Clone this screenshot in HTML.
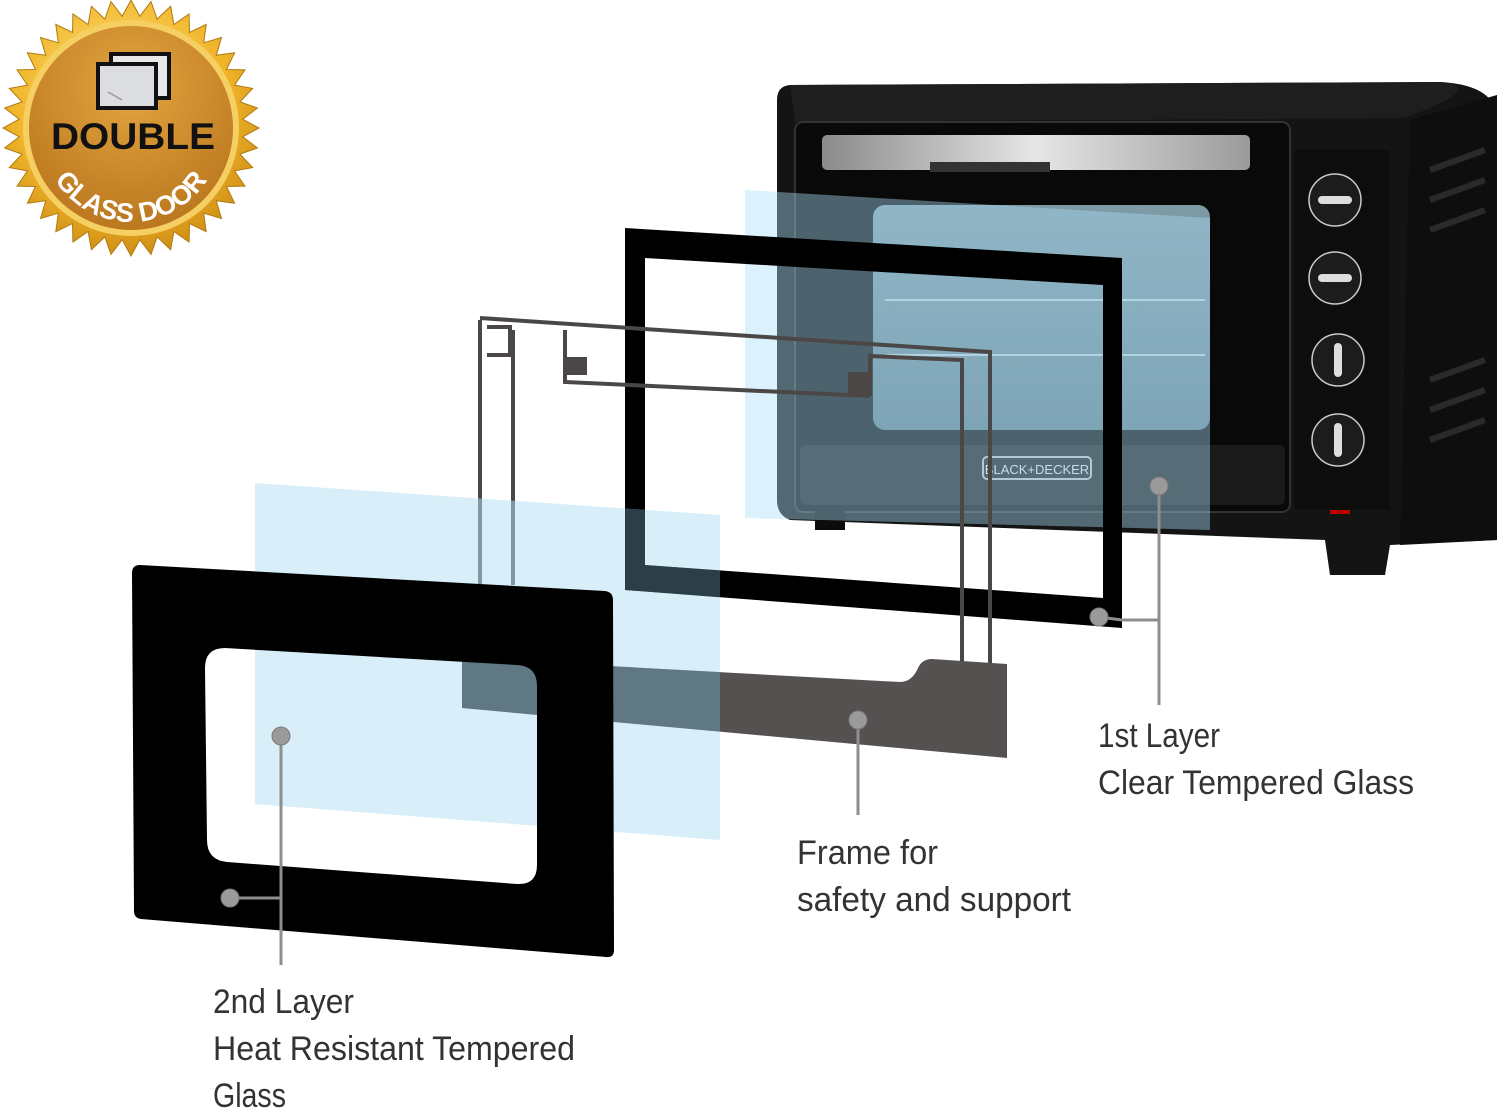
<!DOCTYPE html>
<html><head><meta charset="utf-8"><style>
html,body{margin:0;padding:0;background:#fff;}
svg{display:block}
text{font-family:"Liberation Sans",sans-serif}
</style></head><body>
<svg width="1500" height="1111" viewBox="0 0 1500 1111" xmlns="http://www.w3.org/2000/svg">
<defs>
<radialGradient id="gold" cx="45%" cy="35%" r="70%">
<stop offset="0" stop-color="#ffe27a"/><stop offset="0.6" stop-color="#f0b52a"/><stop offset="1" stop-color="#c98712"/></radialGradient>
<radialGradient id="disc" cx="50%" cy="30%" r="75%">
<stop offset="0" stop-color="#e3a540"/><stop offset="1" stop-color="#b8741c"/></radialGradient>
<linearGradient id="silver" x1="0" y1="0" x2="1" y2="0">
<stop offset="0" stop-color="#8a8a8a"/><stop offset="0.5" stop-color="#e6e6e6"/><stop offset="1" stop-color="#9a9a9a"/></linearGradient>
<linearGradient id="interior" x1="0" y1="0" x2="0" y2="1">
<stop offset="0" stop-color="#7e9aa5"/><stop offset="1" stop-color="#5f7c88"/></linearGradient>
<path id="arc" d="M 41,132 A 90 90 0 0 0 221,132"/>
<clipPath id="g2"><polygon points="255,483 720,515 720,840 255,804"/></clipPath>
</defs>

<!-- BADGE -->
<polygon fill="url(#gold)" stroke="#b07a10" stroke-width="1" points="" id="star"/>
<script>
(function(){var p=[],cx=131,cy=128,n=40;for(var i=0;i<2*n;i++){var r=i%2?112:128,a=Math.PI*i/n;p.push((cx+r*Math.cos(a)).toFixed(1)+','+(cy+r*Math.sin(a)).toFixed(1));}document.getElementById('star').setAttribute('points',p.join(' '));})();
</script>
<circle cx="131" cy="128" r="108" fill="#f6cf63"/>
<circle cx="131" cy="128" r="102" fill="url(#disc)"/>
<rect x="111" y="54" width="58" height="44" fill="#e8e8ea" stroke="#111" stroke-width="4"/>
<rect x="98" y="64" width="58" height="44" fill="#dcdde0" stroke="#111" stroke-width="4"/>
<line x1="108" y1="92" x2="122" y2="100" stroke="#999" stroke-width="1.5"/>
<text x="133" y="149" text-anchor="middle" font-size="37" font-weight="bold" fill="#111" textLength="164" lengthAdjust="spacingAndGlyphs">DOUBLE</text>
<text font-size="27" font-weight="bold" fill="#fff"><textPath href="#arc" startOffset="50%" text-anchor="middle">GLASS DOOR</textPath></text>

<!-- OVEN -->
<path d="M790,85 L1440,82 Q1497,85 1497,120 L1497,540 L1390,545 L1385,575 L1330,575 L1325,540 L790,520 Q777,515 777,500 L777,100 Q777,86 790,85 Z" fill="#141414"/>
<path d="M790,85 L1440,82 Q1490,86 1405,118 L795,122 Z" fill="#1e1e1e"/>
<path d="M1410,120 L1497,95 L1497,540 L1400,545 Z" fill="#0e0e0e"/>
<g stroke="#2a2a2a" stroke-width="6">
<line x1="1430" y1="170" x2="1485" y2="150"/><line x1="1430" y1="200" x2="1485" y2="180"/><line x1="1430" y1="230" x2="1485" y2="210"/>
<line x1="1430" y1="380" x2="1485" y2="360"/><line x1="1430" y1="410" x2="1485" y2="390"/><line x1="1430" y1="440" x2="1485" y2="420"/>
</g>
<rect x="795" y="122" width="495" height="390" rx="8" fill="#090909" stroke="#333" stroke-width="2"/>
<rect x="822" y="135" width="428" height="35" rx="5" fill="url(#silver)"/>
<rect x="930" y="162" width="120" height="10" fill="#333"/>
<rect x="873" y="205" width="337" height="225" rx="12" fill="url(#interior)"/>
<g stroke="#b8ccd2" stroke-width="2" fill="none">
<line x1="885" y1="300" x2="1205" y2="300"/><line x1="885" y1="355" x2="1205" y2="355"/>
</g>
<rect x="800" y="445" width="485" height="60" rx="6" fill="#1a1a1a"/>
<rect x="983" y="457" width="108" height="22" rx="4" fill="none" stroke="#bbb" stroke-width="2"/>
<text x="1037" y="474" text-anchor="middle" font-size="13" fill="#ddd">BLACK+DECKER</text>
<rect x="815" y="505" width="30" height="25" fill="#0c0c0c"/>
<rect x="1295" y="150" width="95" height="360" fill="#0d0d0d"/>
<g fill="#1c1c1c" stroke="#ccc" stroke-width="1.5">
<circle cx="1335" cy="200" r="26"/><circle cx="1335" cy="278" r="26"/><circle cx="1338" cy="360" r="26"/><circle cx="1338" cy="440" r="26"/>
</g>
<g fill="#ddd">
<rect x="1318" y="196" width="34" height="8" rx="4"/><rect x="1318" y="274" width="34" height="8" rx="4"/>
<rect x="1334" y="343" width="8" height="34" rx="4"/><rect x="1334" y="423" width="8" height="34" rx="4"/>
</g>
<rect x="1330" y="510" width="20" height="4" fill="#b00"/>

<!-- GLASS 1 -->
<polygon points="745,190 1210,218 1210,530 745,518" fill="#a9def5" fill-opacity="0.42"/>

<!-- BLACK FRAME -->
<path fill-rule="evenodd" fill="#000" d="M625,228 L1122,258 L1122,628 L625,590 Z M645,258 L1103,285 L1103,598 L645,565 Z"/>

<!-- THIN FRAME LINES -->
<g stroke="#4b4747" stroke-width="4" fill="none">
<polyline points="480,320 480,585"/>
<polyline points="480,318 990,352 990,665"/>
<polyline points="513,330 513,585"/>
<polyline points="487,327 510,327 510,355 487,355"/>
<polyline points="565,330 565,382 870,396"/>
<polyline points="870,396 870,356 962,360 962,665"/>
</g>
<rect x="567" y="357" width="20" height="18" fill="#4b4747"/>
<rect x="848" y="372" width="22" height="22" fill="#4b4747"/>

<!-- PLATE -->
<path d="M462,658 L900,682 Q912,682 918,668 Q922,659 932,659 L1007,664 L1007,758 L462,708 Z" fill="#555151"/>

<!-- GLASS 2 -->
<polygon points="255,483 720,515 720,840 255,804" fill="#b5e1f6" fill-opacity="0.52"/>
<g clip-path="url(#g2)">
<path d="M462,658 L900,682 L1007,664 L1007,758 L462,708 Z" fill="#5f7883"/>
<path fill-rule="evenodd" fill="#2c3f48" d="M625,228 L1122,258 L1122,628 L625,590 Z M645,258 L1103,285 L1103,598 L645,565 Z"/>
</g>

<!-- FRONT PANEL -->
<path fill-rule="evenodd" fill="#000" d="M140,565 L605,591 Q613,592 613,600 L614,950 Q614,958 606,957 L141,919 Q134,918 134,911 L132,573 Q132,565 140,565 Z
M225,648 L517,665 Q537,666 537,686 L537,865 Q537,885 517,884 L227,862 Q207,860 207,840 L205,668 Q205,648 225,648 Z"/>

<!-- LEADERS -->
<g stroke="#8e8e8e" stroke-width="3" fill="none">
<line x1="1159" y1="486" x2="1159" y2="705"/>
<polyline points="1099,617 1122,620 1159,620"/>
<line x1="858" y1="720" x2="858" y2="815"/>
<line x1="281" y1="736" x2="281" y2="965"/>
<line x1="230" y1="898" x2="281" y2="898"/>
</g>
<g fill="#9a9a9a" stroke="#7a7a7a" stroke-width="1">
<circle cx="1159" cy="486" r="9"/><circle cx="1099" cy="617" r="9"/>
<circle cx="858" cy="720" r="9"/><circle cx="281" cy="736" r="9"/><circle cx="230" cy="898" r="9"/>
</g>

<!-- LABELS -->
<g font-size="34" fill="#333">
<text x="1098" y="747" textLength="122" lengthAdjust="spacingAndGlyphs">1st Layer</text>
<text x="1098" y="794" textLength="316" lengthAdjust="spacingAndGlyphs">Clear Tempered Glass</text>
<text x="797" y="864" textLength="141" lengthAdjust="spacingAndGlyphs">Frame for</text>
<text x="797" y="911" textLength="274" lengthAdjust="spacingAndGlyphs">safety and support</text>
<text x="213" y="1013" textLength="141" lengthAdjust="spacingAndGlyphs">2nd Layer</text>
<text x="213" y="1060" textLength="362" lengthAdjust="spacingAndGlyphs">Heat Resistant Tempered</text>
<text x="213" y="1107" textLength="73" lengthAdjust="spacingAndGlyphs">Glass</text>
</g>
</svg>
</body></html>
